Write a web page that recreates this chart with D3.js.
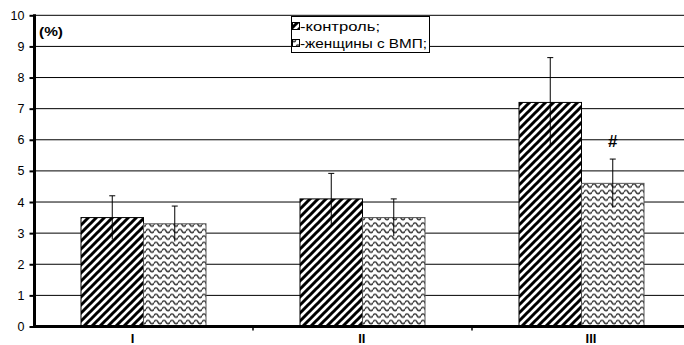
<!DOCTYPE html>
<html>
<head>
<meta charset="utf-8">
<script src="https://cdn.jsdelivr.net/npm/d3@7"></script>
<style>
  html, body { margin: 0; padding: 0; background: #fff; }
  svg { display: block; font-family: "Liberation Sans", Arial, sans-serif; }
</style>
</head>
<body>
<svg id="chart" width="684" height="345"></svg>
<script>
// Data: groups I–III, two series with mean and error (±)
const categories = ["I", "II", "III"];
const seriesNames = ["-контроль;", "-женщины с ВМП;"];
const controlValues = [3.5, 4.1, 7.2];
const controlErrors = [0.7, 0.82, 1.44];
const vmpValues = [3.3, 3.5, 4.6];
const vmpErrors = [0.57, 0.6, 0.78];
const yTicks = [0, 1, 2, 3, 4, 5, 6, 7, 8, 9, 10];
const significance = ["", "", "#"]; // marks above the ВМП bars

const svg = d3.select("#chart");
const width = 684;

const defs = svg.append("defs");
// diagonal hatch for the control series
const hatch = defs.append("pattern")
  .attr("id", "hatch").attr("patternUnits", "userSpaceOnUse")
  .attr("width", 8).attr("height", 8);
hatch.append("rect").attr("width", 8).attr("height", 8).attr("fill", "#fff");
hatch.append("path")
  .attr("d", "M-2,2 L2,-2 M0,8 L8,0 M6,10 L10,6")
  .attr("stroke", "#000").attr("stroke-width", 3);

// wavy fill for the ВМП series
const wave = defs.append("pattern")
  .attr("id", "wave").attr("patternUnits", "userSpaceOnUse")
  .attr("width", 8).attr("height", 6.5);
wave.append("rect").attr("width", 8).attr("height", 6.5).attr("fill", "#fff");
wave.append("path")
  .attr("d", "M0,3.5 C1,1.3 3,1.3 4,3.5 S7,5.7 8,3.5")
  .attr("fill", "none").attr("stroke", "#3a3a3a").attr("stroke-width", 1.6);

const fills = ["url(#hatch)", "url(#wave)"];
const borders = ["#000", "#555"];

// scales
const y = d3.scaleLinear().domain([0, 10]).range([326.5, 15.3]);
const x = d3.scaleBand().domain(categories).range([34, 691]).padding(0);
const xs = d3.scaleBand().domain(d3.range(2)).range([47, 172]).padding(0);
const labelX = d3.scalePoint().domain(categories).range([132.5, 591]);

// gridlines
svg.append("g").selectAll("line").data(yTicks.slice(1)).join("line")
  .attr("x1", 34).attr("x2", width)
  .attr("y1", d => y(d)).attr("y2", d => y(d))
  .attr("stroke", "#000").attr("stroke-width", 1);

// bars
const rows = categories.map((c, i) => [
  { cat: c, s: 0, v: controlValues[i], e: controlErrors[i] },
  { cat: c, s: 1, v: vmpValues[i], e: vmpErrors[i] }
]);
const groups = svg.append("g").selectAll("g").data(rows).join("g")
  .attr("transform", d => `translate(${x(d[0].cat)},0)`);
groups.selectAll("rect").data(d => d).join("rect")
  .attr("x", d => xs(d.s)).attr("width", xs.bandwidth())
  .attr("y", d => y(d.v)).attr("height", d => y(0) - y(d.v))
  .attr("fill", d => fills[d.s]).attr("stroke", d => borders[d.s]).attr("stroke-width", 1);

// error bars
const eb = groups.selectAll("g.err").data(d => d).join("g").attr("class", "err");
eb.append("line")
  .attr("x1", d => xs(d.s) + xs.bandwidth() / 2).attr("x2", d => xs(d.s) + xs.bandwidth() / 2)
  .attr("y1", d => y(d.v + d.e)).attr("y2", d => y(d.v - d.e))
  .attr("stroke", "#000").attr("stroke-width", 1);
eb.append("line")
  .attr("x1", d => xs(d.s) + xs.bandwidth() / 2 - 3).attr("x2", d => xs(d.s) + xs.bandwidth() / 2 + 3)
  .attr("y1", d => y(d.v + d.e)).attr("y2", d => y(d.v + d.e))
  .attr("stroke", "#000").attr("stroke-width", 1);

// significance marks
groups.append("text")
  .attr("x", (d, i) => xs(1) + xs.bandwidth() / 2)
  .attr("y", (d, i) => y(vmpValues[i] + vmpErrors[i]) - 12)
  .attr("text-anchor", "middle").attr("font-size", 17).attr("font-weight", "bold")
  .text((d, i) => significance[i]);

// y axis
const yAxis = svg.append("g").attr("transform", "translate(34.5,0)")
  .call(d3.axisLeft(y).tickValues(yTicks).tickSize(5).tickPadding(5).tickFormat(d3.format("d")));
yAxis.select(".domain").remove();
yAxis.selectAll(".tick line").attr("stroke", "#000").attr("stroke-width", 2);
yAxis.selectAll(".tick text").attr("font-size", 12.5).attr("fill", "#000")
  .attr("font-family", "Liberation Sans, Arial, sans-serif");
svg.append("line").attr("x1", 34.5).attr("x2", 34.5).attr("y1", y(10) - 1).attr("y2", y(0) + 1.5)
  .attr("stroke", "#000").attr("stroke-width", 3);

// x axis
svg.append("line").attr("x1", 33).attr("x2", width).attr("y1", y(0)).attr("y2", y(0))
  .attr("stroke", "#000").attr("stroke-width", 3);
svg.append("g").selectAll("line").data(categories.slice(1)).join("line")
  .attr("x1", d => x(d)).attr("x2", d => x(d))
  .attr("y1", y(0)).attr("y2", y(0) + 4)
  .attr("stroke", "#000").attr("stroke-width", 1.5);
svg.append("g").selectAll("text").data(categories).join("text")
  .attr("x", d => labelX(d)).attr("y", 343)
  .attr("text-anchor", "middle").attr("font-size", 13).attr("font-weight", "bold")
  .text(d => d);

// unit label
svg.append("text").attr("x", 39).attr("y", 36)
  .attr("font-size", 13).attr("font-weight", "bold")
  .attr("textLength", 24).attr("lengthAdjust", "spacingAndGlyphs").text("(%)");

// legend
const legendTextWidth = [80, 127];
const legend = svg.append("g");
legend.append("rect").attr("x", 291.5).attr("y", 16.5).attr("width", 138).attr("height", 36)
  .attr("fill", "#fff").attr("stroke", "#000").attr("stroke-width", 1);
const lrows = legend.selectAll("g").data(seriesNames).join("g")
  .attr("transform", (d, i) => `translate(0,${i * 17})`);
lrows.append("rect").attr("x", 292.5).attr("y", 22.5).attr("width", 7).attr("height", 7)
  .attr("fill", (d, i) => fills[i]).attr("stroke", "#000").attr("stroke-width", 1);
lrows.append("text").attr("x", 300).attr("y", 31)
  .attr("font-size", 13)
  .attr("textLength", (d, i) => legendTextWidth[i]).attr("lengthAdjust", "spacingAndGlyphs")
  .text(d => d);
</script>
</body>
</html>
